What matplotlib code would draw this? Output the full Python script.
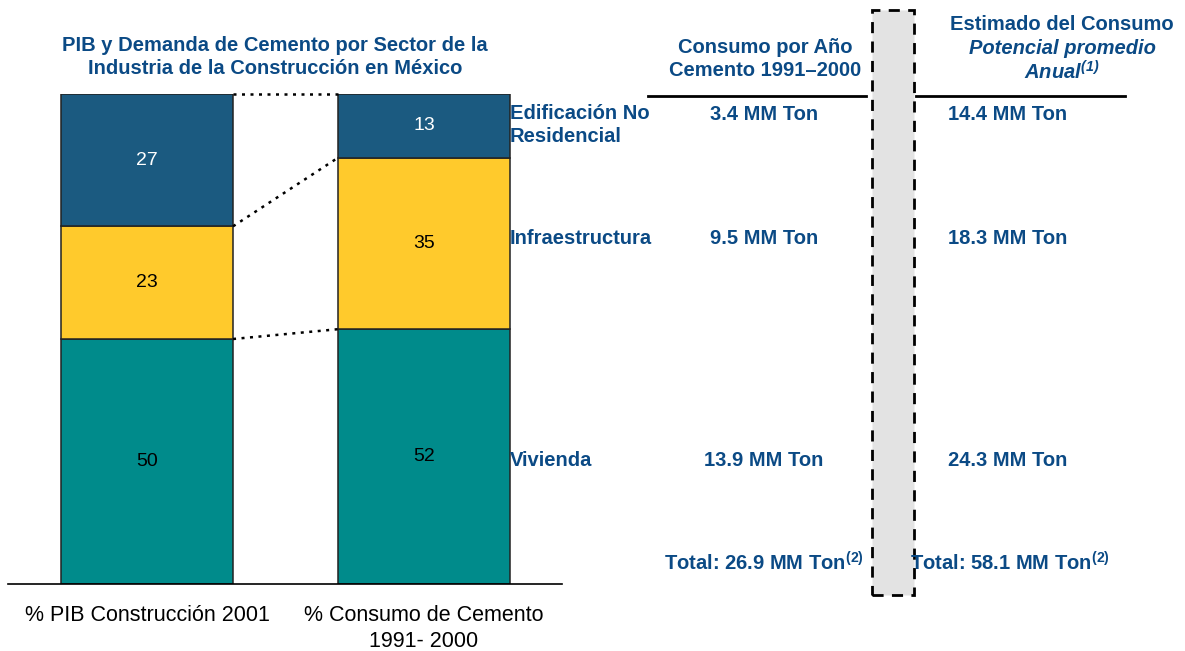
import matplotlib.pyplot as plt
from matplotlib.patches import Rectangle

plt.rcParams['font.family'] = ['Liberation Sans', 'DejaVu Sans']
plt.rcParams['mathtext.fontset'] = 'custom'
plt.rcParams['mathtext.rm'] = 'Liberation Sans'
plt.rcParams['mathtext.bf'] = 'Liberation Sans:bold'
plt.rcParams['mathtext.it'] = 'Liberation Sans:italic'
plt.rcParams['mathtext.bfit'] = 'Liberation Sans:italic:bold'

# data
categories = ['% PIB Construcción 2001', '% Consumo de Cemento\n1991- 2000']
sectors = ['Vivienda', 'Infraestructura', 'Edificación No\nResidencial']
pib = [50, 23, 27]
consumo = [52, 35, 13]
cons_hist = ['13.9 MM Ton', '9.5 MM Ton', '3.4 MM Ton']
cons_pot = ['24.3 MM Ton', '18.3 MM Ton', '14.4 MM Ton']
total_hist = 'Total: 26.9 MM Ton$^{\\mathbf{(2)}}$'
total_pot = 'Total: 58.1 MM Ton$^{\\mathbf{(2)}}$'

colors = ['#008B8B', '#FFCA2C', '#1B5A80']
txt_colors = ['black', 'black', 'white']
blue = '#0B4A85'
fs = 14.5

W, H = 1185, 651
fig = plt.figure(figsize=(W / 100, H / 100), dpi=100)

def fx(px):
    return px / W

def fy(py):
    return 1 - py / H

ax = fig.add_axes([fx(8), fy(584), fx(554), (584 - 94) / H])
ax.set_xlim(-0.502, 1.498)
ax.set_ylim(0, 100)
for s in ['top', 'right', 'left']:
    ax.spines[s].set_visible(False)
ax.spines['bottom'].set_linewidth(1.2)
ax.set_xticks([])
ax.set_yticks([])

bw = 0.621
for i, vals in enumerate([pib, consumo]):
    bottom = 0
    for j, v in enumerate(vals):
        ax.bar(i, v, bw, bottom=bottom, color=colors[j], edgecolor='#222222', linewidth=1.1)
        ax.text(i, bottom + v / 2, str(v), ha='center', va='center',
                fontsize=14, color=txt_colors[j])
        bottom += v

# dotted connectors between bars
cum_l = [sum(pib[:k + 1]) for k in range(3)]
cum_r = [sum(consumo[:k + 1]) for k in range(3)]
for a, b in zip(cum_l, cum_r):
    ax.plot([bw / 2, 1 - bw / 2], [a, b], color='black', ls=(0, (1.2, 2.2)), lw=1.8,
            clip_on=False)

for i, c in enumerate(categories):
    ax.text(i, -4.3, c, ha='center', va='top', fontsize=15.5, linespacing=1.3)

fig.text(fx(275), fy(57), 'PIB y Demanda de Cemento por Sector de la\nIndustria de la Construcción en México',
         ha='center', va='center', fontsize=fs, fontweight='bold', color=blue, linespacing=1.25)

# sector labels and tonnage columns
label_y = [461, 239, 125]
val_y = [461, 239, 114]
for k in range(3):
    fig.text(fx(510), fy(label_y[k]), sectors[k], ha='left', va='center',
             fontsize=fs, fontweight='bold', color=blue, linespacing=1.25)
    fig.text(fx(764), fy(val_y[k]), cons_hist[k], ha='center', va='center',
             fontsize=fs, fontweight='bold', color=blue)
    fig.text(fx(1008), fy(val_y[k]), cons_pot[k], ha='center', va='center',
             fontsize=fs, fontweight='bold', color=blue)

fig.text(fx(764), fy(563), total_hist, ha='center', va='center',
         fontsize=fs, fontweight='bold', color=blue)
fig.text(fx(1010), fy(563), total_pot, ha='center', va='center',
         fontsize=fs, fontweight='bold', color=blue)

# column headers
fig.text(fx(765), fy(59), 'Consumo por Año\nCemento 1991–2000', ha='center', va='center',
         fontsize=fs, fontweight='bold', color=blue, linespacing=1.25)
fig.text(fx(1062), fy(25), 'Estimado del Consumo', ha='center', va='center',
         fontsize=fs, fontweight='bold', color=blue)
fig.text(fx(1062), fy(49), 'Potencial promedio', ha='center', va='center',
         fontsize=fs, fontweight='bold', style='italic', color=blue)
fig.text(fx(1062), fy(72), 'Anual$^{\\mathbfit{(1)}}$', ha='center', va='center',
         fontsize=fs, fontweight='bold', style='italic', color=blue)

fig.add_artist(plt.Line2D([fx(648), fx(866)], [fy(96), fy(96)], color='black', lw=2))
fig.add_artist(plt.Line2D([fx(916), fx(1125)], [fy(96), fy(96)], color='black', lw=2))

# gray separator box
fig.add_artist(Rectangle((fx(872), fy(595)), fx(42), (595 - 10) / H, transform=fig.transFigure,
                         facecolor='#E3E3E3', edgecolor='black', lw=2, ls=(0, (4, 3))))

fig.savefig('out.png', dpi=100)
